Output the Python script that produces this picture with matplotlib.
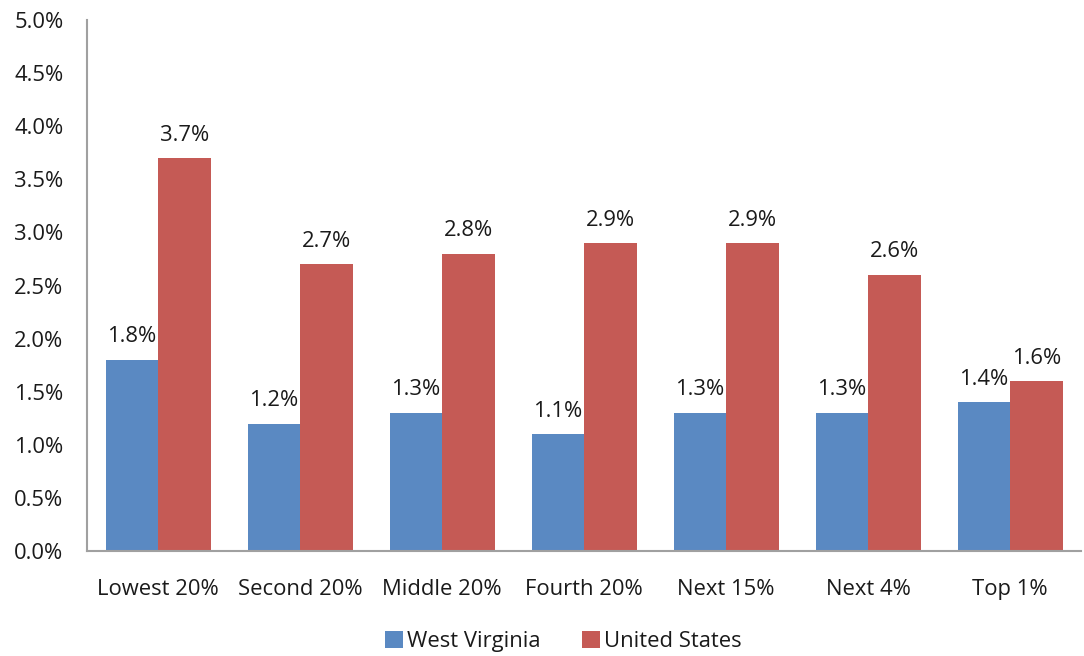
import matplotlib
matplotlib.use("Agg")
import matplotlib.pyplot as plt
import numpy as np

categories = ["Lowest 20%", "Second 20%", "Middle 20%", "Fourth 20%",
              "Next 15%", "Next 4%", "Top 1%"]
west_virginia = [1.8, 1.2, 1.3, 1.1, 1.3, 1.3, 1.4]
united_states = [3.7, 2.7, 2.8, 2.9, 2.9, 2.6, 1.6]
y_ticks = [0.0, 0.5, 1.0, 1.5, 2.0, 2.5, 3.0, 3.5, 4.0, 4.5, 5.0]

plt.rcParams["font.family"] = ["Open Sans", "DejaVu Sans"]
text_color = "#1a1a1a"
fs = 15.8

fig = plt.figure(figsize=(10.84, 6.56), dpi=100)
ax = fig.add_axes([0.0803, 0.160, 0.917, 0.8095])

x = np.arange(len(categories))
w = 0.37
b1 = ax.bar(x - w / 2, west_virginia, w, color="#5A89C2", label="West Virginia")
b2 = ax.bar(x + w / 2, united_states, w, color="#C55A55", label="United States")

for bars, vals in ((b1, west_virginia), (b2, united_states)):
    for rect, v in zip(bars, vals):
        ax.annotate(f"{v:.1f}%", (rect.get_x() + rect.get_width() / 2, v),
                    xytext=(0, 9), textcoords="offset points",
                    ha="center", va="bottom", fontsize=fs, color=text_color)

ax.set_xlim(-0.5, len(categories) - 0.5)
ax.set_ylim(0, 5.0)
ax.set_yticks(y_ticks)
ax.set_yticklabels([f"{t:.1f}%" for t in y_ticks], fontsize=fs, color=text_color)
ax.set_xticks(x)
ax.set_xticklabels(categories, fontsize=fs, color=text_color)
ax.tick_params(axis="both", length=0)
ax.tick_params(axis="y", pad=17)
ax.tick_params(axis="x", pad=20)

for side in ("top", "right"):
    ax.spines[side].set_visible(False)
for side in ("left", "bottom"):
    ax.spines[side].set_color("#a0a0a0")
    ax.spines[side].set_linewidth(1.5)

fig.legend(handles=[b1, b2], labels=["West Virginia", "United States"],
           loc="center", bbox_to_anchor=(0.52, 0.022), ncol=2, frameon=False,
           fontsize=fs, handlelength=0.8, handleheight=0.8, handletextpad=0.2,
           columnspacing=1.9, labelcolor=text_color)

fig.savefig("out.png", dpi=100, facecolor="white")
